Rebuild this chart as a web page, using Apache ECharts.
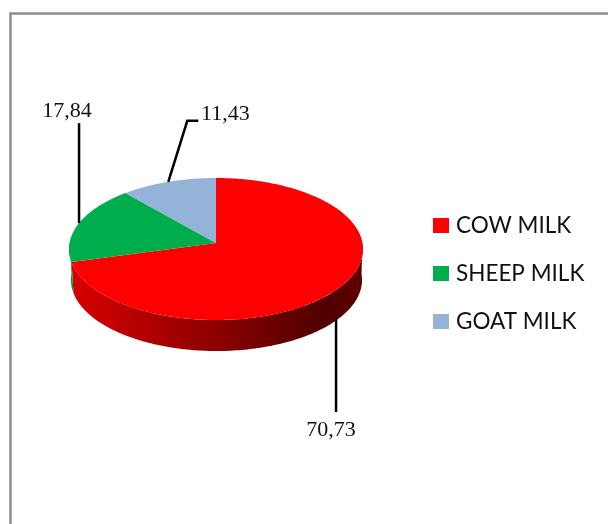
<!DOCTYPE html>
<html>
<head>
<meta charset="utf-8">
<style>html,body{margin:0;padding:0;background:#fff}#chart{width:608px;height:524px}</style>
<script src="https://cdn.jsdelivr.net/npm/echarts@6/dist/echarts.min.js"></script>
</head>
<body>
<div id="chart"></div>
<script>
// Share of milk production by source (percent)
const categories = ['COW MILK', 'SHEEP MILK', 'GOAT MILK'];
const shares = [70.73, 17.84, 11.43];
const topColors = ['#ff0000', '#00ad4d', '#95b2d8'];

// Side-wall shading, left to right
const wallStops = [
  ['#d80000', '#8c0000', '#4e0000', '#600000'],
  ['#00903f', '#00903f', '#00903f', '#00903f'],
  ['#7a93b3', '#7a93b3', '#7a93b3', '#7a93b3']
];

// Leader routes and label centres, relative to each slice's anchor point
const leaders = [
  { path: [[-2, 0], [-2, 93]], label: [-7, 111], fromBase: true },
  { path: [[0, 0], [0, -100]], label: [-12, -112], fromBase: false },
  { path: [[0, 0], [19, -61], [30, -61]], label: [57, -67.5], fromBase: false }
];

// Tilted disc: a perspective projection of a unit circle
const perspective = -0.0845;
const topDisc = { cx: 216, cy: 243, rx: 146.5, ry: 70.5 };
const baseDisc = { cx: 216.5, cy: 274, rx: 145, ry: 70.5 };

function project(disc, degrees) {
  const t = degrees * Math.PI / 180;
  const u = Math.sin(t);
  const v = -Math.cos(t);
  const d = 1 + perspective * v;
  return [disc.cx + disc.rx * u / d, disc.cy + disc.ry * v / d];
}

function arc(disc, from, to) {
  const pts = [];
  const steps = Math.max(2, Math.ceil(Math.abs(to - from)));
  for (let i = 0; i <= steps; i++) {
    pts.push(project(disc, from + (to - from) * i / steps));
  }
  return pts;
}

const total = shares.reduce((a, b) => a + b, 0);

function renderSlice(index) {
  const value = shares[index];
  const before = shares.slice(0, index).reduce((a, b) => a + b, 0);
  const start = before / total * 360;
  const end = (before + value) / total * 360;
  const mid = (start + end) / 2;
  const children = [];

  // The side wall is visible only on the near half of the rim
  const wallFrom = Math.max(start, 90);
  const wallTo = Math.min(end, 270);
  if (wallTo > wallFrom) {
    const upper = arc(topDisc, wallFrom, wallTo);
    const lower = arc(baseDisc, wallFrom, wallTo).reverse();
    const stops = wallStops[index];
    children.push({
      type: 'polygon',
      shape: { points: upper.concat(lower) },
      style: {
        fill: new echarts.graphic.LinearGradient(
          baseDisc.cx - baseDisc.rx, 0, baseDisc.cx + baseDisc.rx, 0,
          [
            { offset: 0, color: stops[0] },
            { offset: 0.5, color: stops[1] },
            { offset: 0.88, color: stops[2] },
            { offset: 1, color: stops[3] }
          ],
          true
        )
      }
    });
  }

  // Top face of the slice
  children.push({
    type: 'polygon',
    shape: { points: [[topDisc.cx, topDisc.cy]].concat(arc(topDisc, start, end)) },
    style: { fill: topColors[index] }
  });

  // Leader line and value label
  const leader = leaders[index];
  const anchor = project(leader.fromBase ? baseDisc : topDisc, mid);
  children.push({
    type: 'polyline',
    shape: { points: leader.path.map(p => [anchor[0] + p[0], anchor[1] + p[1]]) },
    style: { stroke: '#000', lineWidth: 2.5, fill: null }
  });
  children.push({
    type: 'text',
    style: {
      x: anchor[0] + leader.label[0],
      y: anchor[1] + leader.label[1],
      text: value.toFixed(2).replace('.', ','),
      fill: '#111',
      font: '22px "Liberation Serif"',
      align: 'center',
      verticalAlign: 'middle'
    }
  });
  return { type: 'group', children };
}

const chart = echarts.init(document.getElementById('chart'), null, { renderer: 'canvas' });
chart.setOption({
  animation: false,
  backgroundColor: '#fff',
  graphic: [{
    type: 'rect',
    shape: { x: 10.5, y: 13.5, width: 800, height: 800 },
    style: { fill: null, stroke: '#8c8c8c', lineWidth: 2.5 },
    silent: true
  }],
  legend: {
    orient: 'vertical',
    left: 428,
    top: 209,
    icon: 'rect',
    itemWidth: 16,
    itemHeight: 15,
    itemGap: 25,
    selectedMode: false,
    data: categories,
    textStyle: { fontFamily: 'Lato', fontSize: 22.5, color: '#111', padding: [0, 0, 0, 2] }
  },
  series: categories.map((name, i) => ({
    type: 'custom',
    name,
    coordinateSystem: 'none',
    silent: true,
    itemStyle: { color: topColors[i] },
    data: [shares[i]],
    renderItem: () => renderSlice(i)
  }))
});
</script>
</body>
</html>
